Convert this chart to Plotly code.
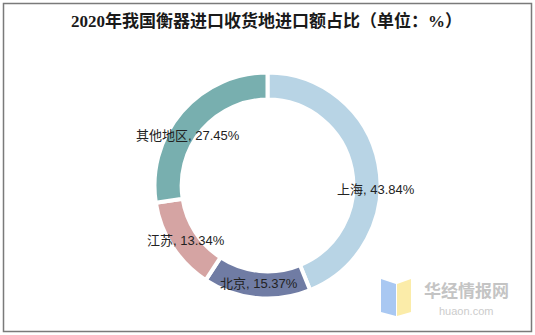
import plotly.graph_objects as go

# Import value share by receiving region, 2020 (%)
regions = ["上海", "北京", "江苏", "其他地区"]
shares = [43.84, 15.37, 13.34, 27.45]
colors = ["#B8D4E5", "#707CA4", "#D5A4A3", "#78AFAF"]

W, H = 535, 335

# label anchor points (pixels) for each region's text
label_px = {
    "上海": (376, 189),
    "北京": (259, 283),
    "江苏": (186, 240),
    "其他地区": (188, 135),
}


def px(x, y):
    return x / W, 1 - y / H


# donut placement in pixels
cx, cy, R = 267.5, 185.5, 113
dom_x = [(cx - R) / W, (cx + R) / W]
dom_y = [1 - (cy + R) / H, 1 - (cy - R) / H]

fig = go.Figure()
fig.add_trace(go.Pie(
    labels=regions,
    values=shares,
    sort=False,
    direction="clockwise",
    rotation=0,
    hole=0.76,
    marker=dict(colors=colors, line=dict(color="white", width=4)),
    textinfo="none",
    hoverinfo="label+percent",
    showlegend=False,
    domain=dict(x=dom_x, y=dom_y),
))

annotations = []
for name, val in zip(regions, shares):
    x, y = px(*label_px[name])
    annotations.append(dict(
        x=x, y=y, xref="paper", yref="paper",
        text=f"{name}, {val:.2f}%",
        showarrow=False, xanchor="center", yanchor="middle",
        font=dict(family="Liberation Sans, Arial, Noto Sans CJK SC", size=13, color="#222222"),
    ))

# title
tx, ty = px(266, 21)
annotations.append(dict(
    x=tx, y=ty, xref="paper", yref="paper",
    text="<b>2020年我国衡器进口收货地进口额占比（单位：%）</b>",
    showarrow=False, xanchor="center", yanchor="middle",
    font=dict(family="Liberation Serif, Noto Sans CJK SC", size=17, color="#1a1a1a"),
))

# watermark
wx, wy = px(466, 289)
annotations.append(dict(
    x=wx, y=wy, xref="paper", yref="paper", text="<b>华经情报网</b>",
    showarrow=False, xanchor="center", yanchor="middle",
    font=dict(family="Noto Sans CJK SC", size=17, color="#C4C4C4"),
))
wx2, wy2 = px(466, 311)
annotations.append(dict(
    x=wx2, y=wy2, xref="paper", yref="paper", text="huaon.com",
    showarrow=False, xanchor="center", yanchor="middle",
    font=dict(family="Liberation Sans, Arial", size=11, color="#CCCCCC"),
))


def poly(pts):
    p = [px(x, y) for x, y in pts]
    return "M " + " L ".join(f"{a},{b}" for a, b in p) + " Z"


shapes = [
    # frame
    dict(type="rect", xref="paper", yref="paper",
         x0=3.5 / W, x1=531.5 / W, y0=1 - 331.5 / H, y1=1 - 3.5 / H,
         line=dict(color="#7a7a7a", width=1.5), fillcolor="rgba(0,0,0,0)"),
    # logo
    dict(type="path", xref="paper", yref="paper",
         path=poly([(381, 279), (396, 284), (396, 316), (381, 312)]),
         fillcolor="#A9C8F2", line=dict(width=0)),
    dict(type="path", xref="paper", yref="paper",
         path=poly([(397, 284), (411, 279), (411, 312), (397, 316)]),
         fillcolor="#FBECA9", line=dict(width=0)),
]

fig.update_layout(
    width=W, height=H,
    margin=dict(l=0, r=0, t=0, b=0),
    paper_bgcolor="white",
    plot_bgcolor="white",
    annotations=annotations,
    shapes=shapes,
)

fig.write_html("out.html")
